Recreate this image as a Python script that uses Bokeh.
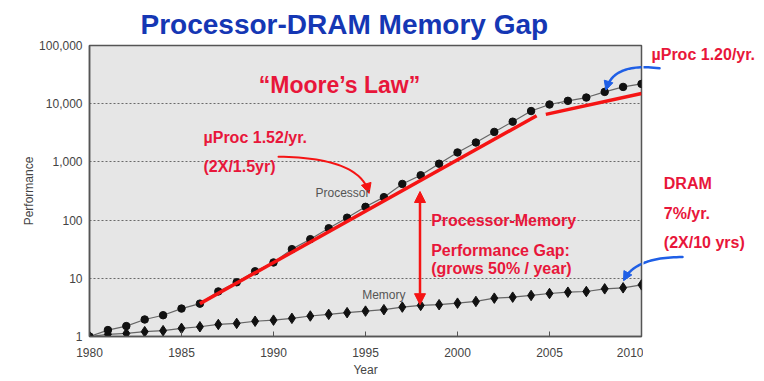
import math
from bokeh.plotting import figure
from bokeh.layouts import row
from bokeh.models import (Label, Arrow, NormalHead, FixedTicker,
                          NumeralTickFormatter, Range1d, ColumnDataSource)
from bokeh.embed import file_html
from bokeh.resources import INLINE

# ---------------- data ----------------
years = list(range(1980, 2011))
processor = [1, 1.29, 1.51, 1.96, 2.32, 3.02, 3.67, 5.94, 8.55, 13.2,
             18.7, 31.7, 47, 72.4, 110, 169, 248, 418, 589, 931,
             1452, 2152, 3275, 4909, 7480, 9690, 11200, 12760, 15960, 19420,
             21870]
memory = [1, 1.09, 1.13, 1.21, 1.26, 1.38, 1.47, 1.61, 1.68, 1.83,
          1.91, 2.05, 2.25, 2.4, 2.57, 2.73, 2.89, 3.2, 3.42, 3.52,
          3.74, 4.0, 4.56, 4.74, 5.07, 5.48, 5.77, 5.93, 6.59, 6.86,
          7.71]
x_ticks = [1980, 1985, 1990, 1995, 2000, 2005, 2010]
y_ticks = [1, 10, 100, 1000, 10000, 100000]
fast_trend_years = [1986, 2004.3]
fast_trend_perf = [3.67, 6215]
slow_trend_years = [2004.8, 2010]
slow_trend_perf = [6545, 14930]

# ---------------- styles ----------------
RED_TXT = "#e8163a"
RED_LN = "#f51414"
BLUE = "#1f5fe6"
TITLE_BLUE = "#1537b4"
FONT = "Liberation Sans"

H = 380
FL, FR, FT, FB = 89.0, 641.0, 43.0, 336.0   # frame edges in page pixels
MAIN_W = 643
SIDE_W = 120

p = figure(width=MAIN_W, height=H, output_backend="svg", toolbar_location=None,
           x_range=Range1d(1980, 2010), y_range=Range1d(1, 100000),
           y_axis_type="log",
           min_border_left=int(FL), min_border_right=MAIN_W - int(FR),
           min_border_top=int(FT), min_border_bottom=H - int(FB),
           background_fill_color="#e6e6e6", border_fill_color="white")
p.outline_line_color = "#555555"
p.outline_line_width = 1.5

# title
p.title.text = "Processor-DRAM Memory Gap"
p.title.text_font = FONT
p.title.text_font_size = "28px"
p.title.text_font_style = "bold"
p.title.text_color = TITLE_BLUE
p.title.align = "left"
p.title.offset = 51
p.title.standoff = 12

# helpers: page pixel -> data (for annotation geometry only)
def dx(px):
    return 1980 + (px - FL) * 30.0 / (FR - FL)
def dy(py):
    return 10 ** (5.0 * (FB - py) / (FB - FT))

# axes
for ax in (p.xaxis[0], p.yaxis[0]):
    ax.axis_line_color = "#555555"
    ax.axis_line_width = 1.5
    ax.minor_tick_line_color = None
    ax.major_label_text_font = FONT
    ax.major_label_text_font_size = "12px"
    ax.major_label_text_color = "#444444"
    ax.axis_label_text_font = FONT
    ax.axis_label_text_font_size = "12px"
    ax.axis_label_text_font_style = "normal"
    ax.axis_label_text_color = "#444444"
p.xaxis.ticker = FixedTicker(ticks=x_ticks)
p.xaxis.major_tick_in = 5
p.xaxis.major_tick_out = 0
p.xaxis.major_tick_line_color = "#555555"
p.xaxis.major_label_standoff = 11
p.xaxis.axis_label = "Year"
p.xaxis.axis_label_standoff = 3
p.yaxis.ticker = FixedTicker(ticks=y_ticks)
p.yaxis.formatter = NumeralTickFormatter(format="0,0")
p.yaxis.major_tick_in = 0
p.yaxis.major_tick_out = 0
p.yaxis.major_label_standoff = 7
p.yaxis.axis_label = "Performance"
p.yaxis.axis_label_standoff = 0

p.xgrid.grid_line_color = None
p.ygrid.ticker = FixedTicker(ticks=y_ticks)
p.ygrid.grid_line_color = "#6a6a6a"
p.ygrid.grid_line_dash = "2 2"
p.ygrid.grid_line_width = 1

# series
src = ColumnDataSource(dict(year=years, proc=processor, mem=memory))
p.line("year", "proc", source=src, line_color="#666666", line_width=1.2)
p.line("year", "mem", source=src, line_color="#666666", line_width=1.2)
p.scatter("year", "mem", source=src, marker="diamond", size=10.5,
          fill_color="#111111", line_color="#111111")
p.scatter("year", "proc", source=src, marker="circle", size=7.5,
          fill_color="#111111", line_color="#111111")

# trend lines
p.line(fast_trend_years, fast_trend_perf, line_color=RED_LN, line_width=3.5)
p.line(slow_trend_years, slow_trend_perf, line_color=RED_LN, line_width=3.5)

# side panel (right of the frame); its frame is aligned with the main frame,
# coordinates in page pixels
side = figure(width=SIDE_W, height=H, output_backend="svg", toolbar_location=None,
              x_range=Range1d(MAIN_W, MAIN_W + SIDE_W), y_range=Range1d(FB, FT),
              min_border_left=0, min_border_right=0,
              min_border_top=int(FT), min_border_bottom=H - int(FB),
              x_axis_location=None, y_axis_location=None,
              background_fill_color="white", border_fill_color="white")
side.outline_line_color = None
side.grid.grid_line_color = None

def bez(p0, c, p1, n=30):
    pts = []
    for i in range(n + 1):
        t = i / n
        pts.append(((1 - t) ** 2 * p0[0] + 2 * (1 - t) * t * c[0] + t ** 2 * p1[0],
                    (1 - t) ** 2 * p0[1] + 2 * (1 - t) * t * c[1] + t ** 2 * p1[1]))
    return pts

def curved_arrow(p0, c, p1, color, width, head):
    pts = bez(p0, c, p1)
    p.line([dx(a) for a, b in pts], [dy(b) for a, b in pts],
           line_color=color, line_width=width, line_cap="round")
    side.line([a for a, b in pts], [b for a, b in pts],
              line_color=color, line_width=width, line_cap="round")
    tx, ty = p1[0] - c[0], p1[1] - c[1]
    L = math.hypot(tx, ty)
    sx, sy = p1[0] - 4 * tx / L, p1[1] - 4 * ty / L
    p.add_layout(Arrow(end=NormalHead(size=head, fill_color=color,
                                      line_color=color),
                       x_start=dx(sx), y_start=dy(sy),
                       x_end=dx(p1[0] + 2 * tx / L), y_end=dy(p1[1] + 2 * ty / L),
                       line_color=color, line_width=width))

curved_arrow((278, 155), (358, 156), (368, 190), RED_LN, 2, 10)
curved_arrow((659, 66), (614, 60), (606, 86), BLUE, 2.5, 9)
curved_arrow((682, 256), (636, 256), (624, 278), BLUE, 2.5, 9)

# double-headed vertical arrow (gap)
p.add_layout(Arrow(start=NormalHead(size=11, fill_color=RED_LN, line_color=RED_LN),
                   end=NormalHead(size=11, fill_color=RED_LN, line_color=RED_LN),
                   x_start=dx(419.5), y_start=dy(304), x_end=dx(419.5), y_end=dy(190),
                   line_color=RED_LN, line_width=2.5))

# texts
def label(fig, txt, x, y, size, color, bold=True, align="left"):
    fig.add_layout(Label(x=x, y=y, text=txt, text_font=FONT,
                         text_font_size=size, text_color=color,
                         text_font_style="bold" if bold else "normal",
                         text_align=align, text_baseline="middle"))

label(p, "\u201cMoore\u2019s Law\u201d", dx(339), dy(83), "23px", RED_TXT, align="center")
label(p, "\u00b5Proc 1.52/yr.", dx(203), dy(136), "16px", RED_TXT)
label(p, "(2X/1.5yr)", dx(203), dy(165), "16px", RED_TXT)
label(p, "Processor", dx(315), dy(191.7), "12px", "#555555", bold=False)
label(p, "Memory", dx(361.7), dy(294), "12px", "#555555", bold=False)
label(p, "Processor-Memory", dx(430.7), dy(219), "16px", RED_TXT)
label(p, "Performance Gap:", dx(430.7), dy(249), "16px", RED_TXT)
label(p, "(grows 50% / year)", dx(430.7), dy(267.3), "16px", RED_TXT)
label(side, "\u00b5Proc 1.20/yr.", 651, 51.7, "16px", RED_TXT)
label(side, "DRAM", 663.3, 181.7, "16px", RED_TXT)
label(side, "7%/yr.", 663.3, 211.7, "16px", RED_TXT)
label(side, "(2X/10 yrs)", 663.3, 241.7, "16px", RED_TXT)

layout = row(p, side, spacing=0)
open("out.html", "w").write(file_html(layout, INLINE))
